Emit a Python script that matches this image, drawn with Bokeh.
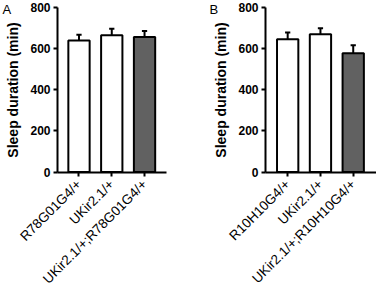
import math
from bokeh.plotting import figure
from bokeh.layouts import row
from bokeh.models import FixedTicker, Label
from bokeh.embed import file_html
from bokeh.resources import INLINE

# Panel A
cats_a = ["R78G01G4/+", "UKir2.1/+", "UKir2.1/+;R78G01G4/+"]
mean_a = [640, 665, 656]
sem_a = [28, 32, 30]
# Panel B
cats_b = ["R10H10G4/+", "UKir2.1/+", "UKir2.1/+;R10H10G4/+"]
mean_b = [645, 670, 577]
sem_b = [33, 29, 39]
fills = ["white", "white", "#616161"]
y_ticks = [0, 200, 400, 600, 800]
y_title = "Sleep duration (min)"

FONT = "Liberation Sans"
W, H = 188, 288
PX_X = 32.77          # pixels per category step
PX_Y = 164.5 / 800    # pixels per minute
TOP_PX, ZERO_PX = 7, 171.5


def panel(cats, means, sems, letter, axis_px, x_lo, x_hi, letter_px):
    xs = [1, 2, 3]
    xr = (x_lo - axis_px / PX_X, x_lo + (W - axis_px) / PX_X)
    yr = (-(H - ZERO_PX) / PX_Y, 800 + TOP_PX / PX_Y)
    p = figure(width=W, height=H, x_range=xr, y_range=yr,
               output_backend="svg", toolbar_location=None, min_border=0)
    p.outline_line_color = None
    p.xgrid.visible = False
    p.ygrid.visible = False
    p.background_fill_color = "white"
    p.border_fill_color = "white"
    tops = [m + s for m, s in zip(means, sems)]
    p.segment(x0=xs, y0=means, x1=xs, y1=tops, line_color="black", line_width=2)
    p.segment(x0=[x - 0.08 for x in xs], y0=tops, x1=[x + 0.08 for x in xs], y1=tops,
              line_color="black", line_width=2)
    p.vbar(x=xs, top=means, width=0.65, bottom=0, fill_color=fills,
           line_color="black", line_width=2)
    for ax in (p.xaxis[0], p.yaxis[0]):
        ax.axis_line_width = 2
        ax.major_tick_line_width = 2
        ax.major_tick_out = 4
        ax.major_tick_in = 0
        ax.minor_tick_line_color = None
        ax.major_label_text_font = FONT
        ax.major_label_text_color = "black"
    p.yaxis.fixed_location = x_lo
    p.yaxis.ticker = FixedTicker(ticks=y_ticks)
    p.yaxis.bounds = (0, 800)
    p.yaxis.major_label_text_font_style = "bold"
    p.yaxis.major_label_text_font_size = "12px"
    p.yaxis.axis_label = y_title
    p.yaxis.axis_label_text_font = FONT
    p.yaxis.axis_label_text_font_style = "bold"
    p.yaxis.axis_label_text_font_size = "14px"
    p.yaxis.axis_label_text_color = "black"
    p.yaxis.axis_label_standoff = 6
    p.yaxis.major_label_standoff = 3
    p.xaxis.fixed_location = 0
    p.xaxis.bounds = (x_lo, x_hi)
    p.xaxis.ticker = FixedTicker(ticks=xs)
    p.xaxis.major_label_overrides = {x: c for x, c in zip(xs, cats)}
    p.xaxis.major_label_orientation = math.pi / 4
    p.xaxis.major_label_text_font_size = "13.5px"
    p.xaxis.major_label_standoff = 6
    p.add_layout(Label(x=xr[0] + letter_px / PX_X, y=800 - (16 - TOP_PX) / PX_Y,
                       text=letter, text_font=FONT, text_font_size="13px",
                       text_color="black"))
    return p


pa = panel(cats_a, mean_a, sem_a, "A", 57, 0.344, 3.67, 2)
pb = panel(cats_b, mean_b, sem_b, "B", 77, 0.323, 3.71, 21)
layout = row(pa, pb)
open("out.html", "w").write(file_html(layout, INLINE))
